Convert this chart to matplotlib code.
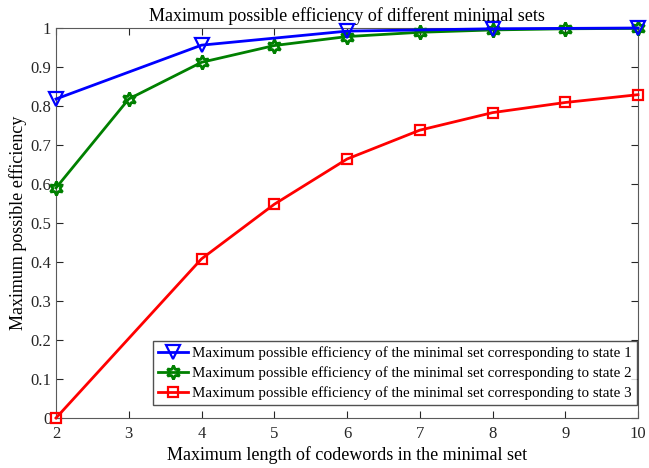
import matplotlib.pyplot as plt

# Données
x_etat1 = [2, 4, 6, 8, 10]
y_etat1 = [0.818, 0.956, 0.992, 0.998, 1.0]

x_etat2 = [2, 3, 4, 5, 6, 7, 8, 9, 10]
y_etat2 = [0.590, 0.818, 0.912, 0.955, 0.978, 0.989, 0.995, 0.998, 0.999]

x_etat3 = [2, 4, 5, 6, 7, 8, 9, 10]
y_etat3 = [0.0, 0.408, 0.548, 0.664, 0.738, 0.783, 0.809, 0.829]

x_ticks = [2, 3, 4, 5, 6, 7, 8, 9, 10]
y_ticks = [0, 0.1, 0.2, 0.3, 0.4, 0.5, 0.6, 0.7, 0.8, 0.9, 1]
y_tick_labels = ['0', '0.1', '0.2', '0.3', '0.4', '0.5', '0.6', '0.7', '0.8', '0.9', '1']

plt.rcParams['font.family'] = ['Liberation Serif', 'DejaVu Serif']

fig = plt.figure(figsize=(6.49, 4.68), dpi=100)
ax = fig.add_axes([56 / 649, 50 / 468, 582 / 649, 390 / 468])

label = 'Maximum possible efficiency of the minimal set corresponding to state '
ax.plot(x_etat1, y_etat1, color='blue', lw=2, marker='v', ms=9.5,
        mfc='none', mew=1.6, label=label + '1', clip_on=False, zorder=5)
ax.plot(x_etat2, y_etat2, color='green', lw=2, marker=(6, 1, 0), ms=10,
        mfc='none', mew=2, label=label + '2', clip_on=False, zorder=4)
ax.plot(x_etat3, y_etat3, color='red', lw=2, marker='s', ms=7,
        mfc='none', mew=1.6, label=label + '3', clip_on=False, zorder=3)

ax.set_xlim(2, 10)
ax.set_ylim(0, 1)
ax.set_xticks(x_ticks)
ax.set_yticks(y_ticks)
ax.set_yticklabels(y_tick_labels)
ax.tick_params(direction='in', top=True, right=True, labelsize=12,
               colors='#262626', length=5)
ax.tick_params(axis='x', pad=6)
for s in ax.spines.values():
    s.set_color('#5a5a5a')

ax.set_title('Maximum possible efficiency of different minimal sets', fontsize=13, pad=5)
ax.set_xlabel('Maximum length of codewords in the minimal set', fontsize=13, labelpad=3)
ax.set_ylabel('Maximum possible efficiency', fontsize=13, labelpad=2)

leg = ax.legend(loc='lower right', bbox_to_anchor=(0.999, 0.033), borderaxespad=0,
                fontsize=10.8, fancybox=False, edgecolor='#262626', handlelength=2.0,
                handletextpad=0.3, borderpad=0.35, labelspacing=0.4)
leg.get_frame().set_linewidth(1)

plt.savefig('out.png', dpi=100)
